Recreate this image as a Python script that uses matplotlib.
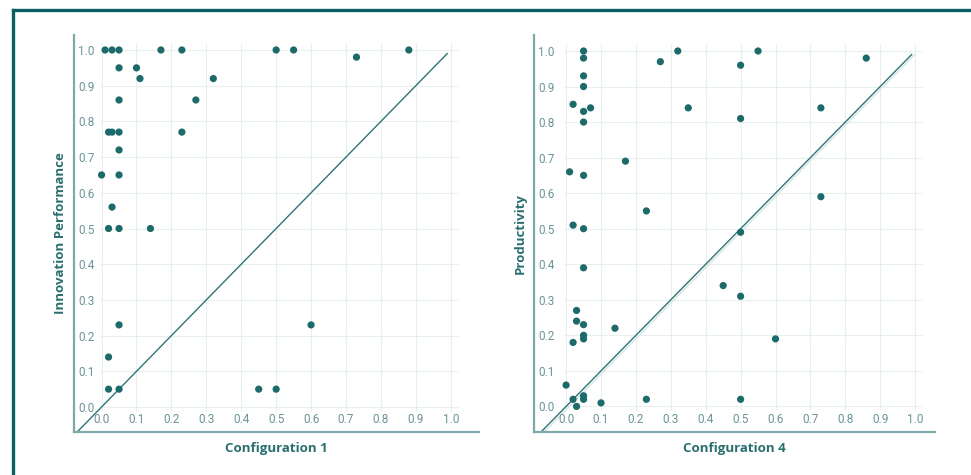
import numpy as np
import matplotlib.pyplot as plt
from matplotlib.lines import Line2D

# Configuration 1 vs Innovation Performance
conf1_x = [0.01, 0.03, 0.05, 0.17, 0.23, 0.50, 0.55, 0.88, 0.73,
           0.05, 0.10, 0.11, 0.32, 0.05, 0.27,
           0.02, 0.03, 0.05, 0.23, 0.05, 0.00, 0.05, 0.03,
           0.02, 0.05, 0.14, 0.05, 0.60, 0.02, 0.02, 0.05, 0.45, 0.50]
innov_y = [1.00, 1.00, 1.00, 1.00, 1.00, 1.00, 1.00, 1.00, 0.98,
           0.95, 0.95, 0.92, 0.92, 0.86, 0.86,
           0.77, 0.77, 0.77, 0.77, 0.72, 0.65, 0.65, 0.56,
           0.50, 0.50, 0.50, 0.23, 0.23, 0.14, 0.05, 0.05, 0.05, 0.05]

# Configuration 4 vs Productivity
conf4_x = [0.05, 0.05, 0.05, 0.05, 0.02, 0.05, 0.07, 0.05,
           0.27, 0.32, 0.50, 0.55, 0.86, 0.35, 0.50, 0.73,
           0.17, 0.01, 0.05, 0.73, 0.23, 0.02, 0.05, 0.50,
           0.05, 0.45, 0.50, 0.03, 0.03, 0.05, 0.05, 0.05, 0.14, 0.02, 0.60,
           0.00, 0.02, 0.03, 0.05, 0.05, 0.10, 0.23, 0.50]
prod_y = [1.00, 0.98, 0.93, 0.90, 0.85, 0.83, 0.84, 0.80,
          0.97, 1.00, 0.96, 1.00, 0.98, 0.84, 0.81, 0.84,
          0.69, 0.66, 0.65, 0.59, 0.55, 0.51, 0.50, 0.49,
          0.39, 0.34, 0.31, 0.27, 0.24, 0.23, 0.20, 0.19, 0.22, 0.18, 0.19,
          0.06, 0.02, 0.00, 0.03, 0.02, 0.01, 0.02, 0.02]

ticks = np.round(np.arange(0, 1.01, 0.1), 1)

dot_c = '#1d6a6b'
line_c = '#2f7577'
label_c = '#2a6e70'
tick_c = '#6a9496'
spine_c = '#7ea8aa'
grid_c = '#e7efef'

fig = plt.figure(figsize=(9.71, 4.75), dpi=100)


def panel(rect, xs, ys, xlabel, ylabel, xlim, ylim, shadow=False):
    ax = fig.add_axes(rect)
    ax.set_xlim(*xlim)
    ax.set_ylim(*ylim)
    for t in ticks:
        ax.hlines(t, -0.005, 1.02, color=grid_c, lw=0.8, zorder=0)
        ax.vlines(t, -0.01, 1.02, color=grid_c, lw=0.8, zorder=0)
    d = np.array([xlim[0], 0.99])
    if shadow:
        ax.plot(d + 0.009, d, color='#dbe8e8', lw=1.2, zorder=1)
    ax.plot(d, d, color=line_c, lw=1.0, zorder=2)
    ax.scatter(xs, ys, s=27, color=dot_c, edgecolors='none', zorder=3)
    ax.set_xticks(ticks)
    ax.set_yticks(ticks)
    ax.set_xticklabels([f'{t:.1f}' for t in ticks])
    ax.set_yticklabels([f'{t:.1f}' for t in ticks])
    ax.tick_params(axis='x', length=0, pad=-14, labelsize=8.5, labelcolor=tick_c)
    ax.tick_params(axis='y', length=0, pad=-15, labelsize=8.5, labelcolor=tick_c)
    for lab in ax.get_xticklabels() + ax.get_yticklabels():
        lab.set_fontfamily('Roboto')
    for s in ['top', 'right']:
        ax.spines[s].set_visible(False)
    for s in ['left', 'bottom']:
        ax.spines[s].set_color(spine_c)
        ax.spines[s].set_linewidth(1.6)
    ax.set_xlabel(xlabel, fontsize=9.5, fontweight='bold', color=label_c,
                  family='Open Sans', labelpad=7)
    ax.set_ylabel(ylabel, fontsize=9.5, fontweight='bold', color=label_c,
                  family='Open Sans', labelpad=5)
    return ax


panel([74 / 971, 43 / 475, 405 / 971, 397 / 475], conf1_x, innov_y,
      'Configuration 1', 'Innovation Performance', (-0.079, 1.081), (-0.070, 1.042))
panel([534 / 971, 43 / 475, 401 / 971, 397 / 475], conf4_x, prod_y,
      'Configuration 4', 'Productivity', (-0.092, 1.057), (-0.072, 1.045), shadow=True)

# outer frame (top and left edges)
border_c = '#0b5f63'
fig.add_artist(Line2D([12.5 / 971, 1], [1 - 10 / 475, 1 - 10 / 475],
                      color=border_c, lw=2.4, transform=fig.transFigure))
fig.add_artist(Line2D([12.5 / 971, 12.5 / 971], [0, 1 - 10 / 475],
                      color=border_c, lw=2.4, transform=fig.transFigure))

fig.savefig('out.png', dpi=100)
